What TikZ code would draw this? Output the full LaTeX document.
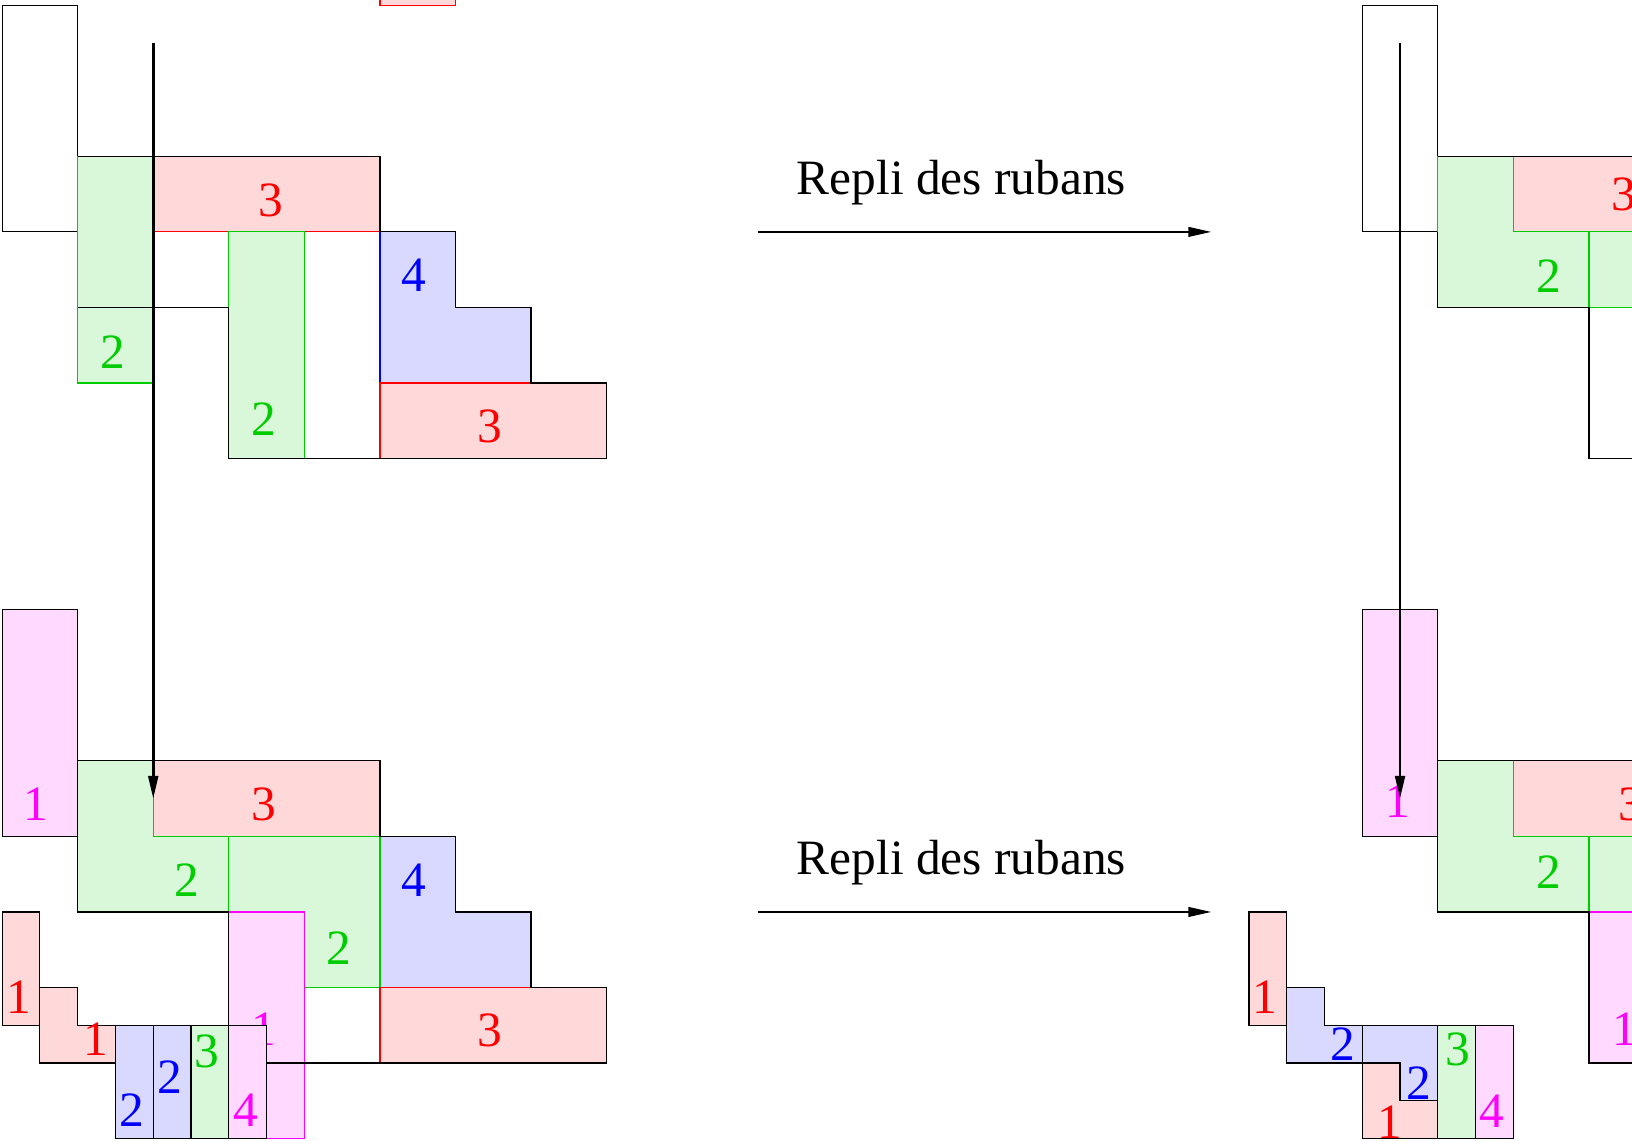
\documentclass[tikz,border=0pt]{standalone}
\usepackage{fontspec}
\setmainfont{Liberation Serif}
\usetikzlibrary{arrows.meta}
\definecolor{rfond}{RGB}{255,217,217}
\definecolor{vfond}{RGB}{217,247,217}
\definecolor{bfond}{RGB}{217,217,255}
\definecolor{mfond}{RGB}{255,217,255}
\definecolor{vert}{RGB}{0,205,0}
\definecolor{mag}{RGB}{255,0,255}
\tikzset{
    normal/.style={line width=0.45pt, line join=miter},
    bord/.style={style=normal, draw=black},
    rr/.style={style=normal, draw=red, fill=rfond},
    rv/.style={style=normal, draw=vert, fill=vfond},
    rb/.style={style=normal, draw=blue, fill=bfond},
    rm/.style={style=normal, draw=mag, fill=mfond},
    rn/.style={style=normal, draw=black}, % small ribbons with black edges
    ch/.style={inner sep=0pt, font=\fontsize{18.6}{20}\selectfont},
    numr/.style={style=ch, text=red},
    numv/.style={style=ch, text=vert},
    numb/.style={style=ch, text=blue},
    numm/.style={style=ch, text=mag},
    txt/.style={style=ch, anchor=base west},
    fl/.style={line width=0.5pt, -{Triangle[length=3mm,width=1.3mm]}},
    flv/.style={style=fl, line width=0.95pt}
}

\begin{document}
\begin{tikzpicture}[x=1cm, y=-1cm]
  \useasboundingbox (-0.028,-0.069) rectangle (21.57,15.031);
  \clip (-0.028,-0.069) rectangle (21.57,15.031);

  % top left
  \draw[rr] (5,-0.5) rectangle (6,0);
  \draw[bord] (0,0) rectangle (1,3);
  \draw[rv] (1,2) rectangle (2,5);
  \draw[rr] (2,2) rectangle (5,3);
  \draw[rv] (3,3) rectangle (4,6);
  \draw[rb] (5,3) -- (6,3) -- (6,4) -- (7,4) -- (7,5) -- (5,5) -- cycle;
  \draw[rr] (5,5) rectangle (8,6);
  \draw[bord] (1,4) -- (3,4) -- (3,6) -- (8,6) -- (8,5) -- (7,5) -- (7,4)
    -- (6,4) -- (6,3) -- (5,3) -- (5,2) -- (1,2);
  \node[numr] (tl3a) at (3.55,2.58) {3};
  \node[numv] (tl2a) at (1.46,4.59) {2};
  \node[numv] (tl2b) at (3.46,5.48) {2};
  \node[numb] (tl4) at (5.45,3.58) {4};
  \node[numr] (tl3b) at (6.45,5.58) {3};

  % bottom left
  \draw[rn, fill=mfond] (0,8) rectangle (1,11);
  \draw[rr] (2,10) rectangle (5,11);
  \draw[rv] (1,10) -- (2,10) -- (2,11) -- (3,11) -- (3,12) -- (1,12) -- cycle;
  \draw[rb] (5,11) -- (6,11) -- (6,12) -- (7,12) -- (7,13) -- (5,13) -- cycle;
  \draw[rv] (3,11) -- (5,11) -- (5,13) -- (4,13) -- (4,12) -- (3,12) -- cycle;
  \draw[rr] (5,13) rectangle (8,14);
  \draw[rm] (3,12) rectangle (4,15);
  \draw[bord] (3,14) -- (3,12) -- (1,12) -- (1,10) -- (5,10) -- (5,11) -- (6,11)
    -- (6,12) -- (7,12) -- (7,13) -- (8,13) -- (8,14) -- cycle;
  \node[numm] (bl1a) at (0.45,10.58) {1};
  \node[numr] (bl3a) at (3.46,10.58) {3};
  \node[numv] (bl2a) at (2.45,11.58) {2};
  \node[numv] (bl2b) at (4.45,12.48) {2};
  \node[numb] (bl4) at (5.45,11.58) {4};
  \node[numr] (bl3b) at (6.45,13.57) {3};
  \node[numm] (bl1b) at (3.47,13.55) {1};
  % small ribbons
  \draw[rn, fill=rfond] (0,12) rectangle (0.5,13.5);
  \draw[rn, fill=rfond] (0.5,13) -- (1,13) -- (1,13.5) -- (1.5,13.5) -- (1.5,14)
    -- (0.5,14) -- cycle;
  \draw[rn, fill=bfond] (1.5,13.5) rectangle (2,15);
  \draw[rn, fill=bfond] (2,13.5) rectangle (2.5,15);
  \draw[rn, fill=vfond] (2.5,13.5) rectangle (3,15);
  \draw[rn, fill=mfond] (3,13.5) rectangle (3.5,15);
  \node[numr] (bs1a) at (0.22,13.13) {1};
  \node[numr] (bs1b) at (1.24,13.69) {1};
  \node[numb] (bs2a) at (1.72,14.62) {2};
  \node[numb] (bs2b) at (2.22,14.18) {2};
  \node[numv] (bs3) at (2.71,13.85) {3};
  \node[numm] (bs4) at (3.22,14.62) {4};

  \coordinate (va) at (2,0.5);
  \coordinate (vb) at (2,10.5);
  \draw[flv] (va) -- (vb);

  % arrows in the middle
  \coordinate (ha) at (10,3);
  \coordinate (hb) at (16,3);
  \coordinate (hc) at (10,12);
  \coordinate (hd) at (16,12);
  \node[txt] (rep1) at (10.51,2.51) {Repli des rubans};
  \node[txt] (rep2) at (10.51,11.51) {Repli des rubans};
  \draw[fl] (ha) -- (hb);
  \draw[fl] (hc) -- (hd);

  \begin{scope}[xshift=18cm]
    % top right
    \draw[bord] (0,0) rectangle (1,3);
    \draw[rr] (2,2) rectangle (5,3);
    \draw[rv] (1,2) -- (2,2) -- (2,3) -- (3,3) -- (3,4) -- (1,4) -- cycle;
    \draw[rv] (3,3) rectangle (5,4);
    \draw[bord] (1,3) -- (1,4) -- (3,4) -- (3,6) -- (5,6);
    \draw[bord] (1,2) -- (5,2);
    \node[numr] (tr3) at (3.46,2.5) {3};
    \node[numv] (tr2) at (2.47,3.58) {2};

    % bottom right
    \draw[rn, fill=mfond] (0,8) rectangle (1,11);
    \draw[rr] (2,10) rectangle (5,11);
    \draw[rv] (1,10) -- (2,10) -- (2,11) -- (3,11) -- (3,12) -- (1,12) -- cycle;
    \draw[rv] (3,11) rectangle (5,12);
    \draw[rm] (3,12) rectangle (5,14);
    \draw[bord] (5,14) -- (3,14) -- (3,12) -- (1,12) -- (1,10) -- (5,10);
    \node[numm] (br1a) at (0.47,10.54) {1};
    \node[numr] (br3) at (3.55,10.57) {3};
    \node[numv] (br2) at (2.47,11.47) {2};
    \node[numm] (br1b) at (3.47,13.55) {1};
    % small ribbons
    \draw[rn, fill=rfond] (-1.5,12) rectangle (-1,13.5);
    \draw[rn, fill=bfond] (-1,13) -- (-0.5,13) -- (-0.5,13.5) -- (0,13.5) -- (0,14)
      -- (-1,14) -- cycle;
    \draw[rn, fill=bfond] (0,13.5) -- (1,13.5) -- (1,14.5) -- (0.5,14.5) -- (0.5,14)
      -- (0,14) -- cycle;
    \draw[rn, fill=rfond] (0,14) -- (0.5,14) -- (0.5,14.5) -- (1,14.5) -- (1,15)
      -- (0,15) -- cycle;
    \draw[rn, fill=vfond] (1,13.5) rectangle (1.5,15);
    \draw[rn, fill=mfond] (1.5,13.5) rectangle (2,15);
    \node[numr] (rs1a) at (-1.29,13.13) {1};
    \node[numb] (rs2a) at (-0.26,13.75) {2};
    \node[numb] (rs2b) at (0.75,14.26) {2};
    \node[numr] (rs1b) at (0.36,14.78) {1};
    \node[numv] (rs3) at (1.26,13.82) {3};
    \node[numm] (rs4) at (1.71,14.64) {4};

    \coordinate (wa) at (0.5,0.5);
    \coordinate (wb) at (0.5,10.5);
    \draw[flv] (wa) -- (wb);
  \end{scope}
\end{tikzpicture}
\end{document}
